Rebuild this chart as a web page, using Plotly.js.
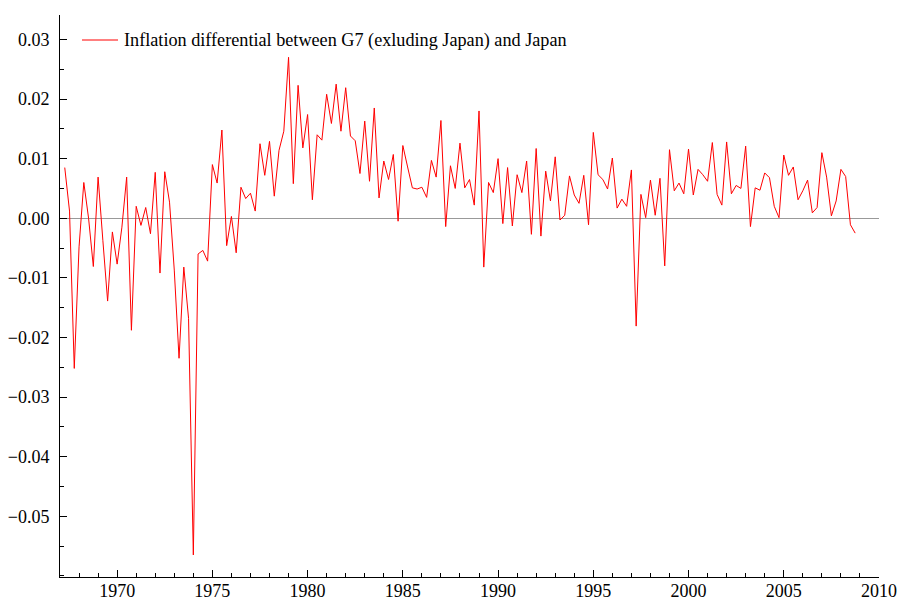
<!DOCTYPE html>
<html>
<head>
<meta charset="utf-8">
<script src="https://cdn.plot.ly/plotly-3.0.1.min.js"></script>
<style>html,body{margin:0;padding:0;background:#fff;}#chart{width:898px;height:601px;}</style>
</head>
<body>
<div id="chart"></div>
<script>
// Quarterly series, first observation 1967.25, step 0.25 year
const startYear = 1967.25;
const seriesName = "Inflation differential between G7 (exluding Japan) and Japan";
const differential = [
  0.0085, 0.0012, -0.0252, -0.0048, 0.0060, 0.0000, -0.0081, 0.0069, -0.0037, -0.0139,
  -0.0023, -0.0077, -0.0015, 0.0069, -0.0188, 0.0020, -0.0012, 0.0018, -0.0026, 0.0077,
  -0.0092, 0.0078, 0.0027, -0.0087, -0.0235, -0.0082, -0.0168, -0.0565, -0.0060, -0.0054,
  -0.0072, 0.0090, 0.0059, 0.0148, -0.0046, 0.0003, -0.0058, 0.0052, 0.0033, 0.0042,
  0.0012, 0.0125, 0.0072, 0.0129, 0.0037, 0.0114, 0.0146, 0.0270, 0.0058, 0.0223,
  0.0118, 0.0174, 0.0031, 0.0140, 0.0131, 0.0208, 0.0159, 0.0225, 0.0146, 0.0219,
  0.0138, 0.0130, 0.0075, 0.0163, 0.0062, 0.0185, 0.0034, 0.0096, 0.0065, 0.0107,
  -0.0005, 0.0122, 0.0086, 0.0051, 0.0049, 0.0052, 0.0035, 0.0097, 0.0069, 0.0164,
  -0.0014, 0.0088, 0.0050, 0.0126, 0.0051, 0.0065, 0.0022, 0.0180, -0.0082, 0.0060,
  0.0043, 0.0100, -0.0009, 0.0085, -0.0013, 0.0073, 0.0043, 0.0096, -0.0027, 0.0117,
  -0.0030, 0.0079, 0.0029, 0.0103, -0.0003, 0.0005, 0.0071, 0.0039, 0.0025, 0.0072,
  -0.0011, 0.0144, 0.0073, 0.0065, 0.0049, 0.0101, 0.0017, 0.0032, 0.0020, 0.0081,
  -0.0181, 0.0040, 0.0001, 0.0064, 0.0005, 0.0067, -0.0080, 0.0115, 0.0046, 0.0059,
  0.0041, 0.0116, 0.0039, 0.0082, 0.0073, 0.0062, 0.0127, 0.0040, 0.0022, 0.0128,
  0.0041, 0.0055, 0.0050, 0.0121, -0.0014, 0.0051, 0.0047, 0.0076, 0.0068, 0.0020,
  0.0001, 0.0106, 0.0072, 0.0086, 0.0031, 0.0046, 0.0064, 0.0009, 0.0018, 0.0110,
  0.0069, 0.0004, 0.0029, 0.0082, 0.0070, -0.0011, -0.0025
];
const dates = differential.map((_, i) => startYear + i * 0.25);
const xTickVals = [1970, 1975, 1980, 1985, 1990, 1995, 2000, 2005, 2010];
const yTickVals = [-0.05, -0.04, -0.03, -0.02, -0.01, 0.00, 0.01, 0.02, 0.03];

const fontFam = "Liberation Serif, Times New Roman, serif";
const lineColor = '#ff0000';

// legend key drawn in paper coordinates (plot area 60..879 px wide, 15..577 px tall)
const plotW = 819, plotH = 562;
const keyY = (577 - 40) / plotH;

Plotly.newPlot('chart', [{
  x: dates,
  y: differential,
  type: 'scatter',
  mode: 'lines',
  name: seriesName,
  showlegend: false,
  line: {color: lineColor, width: 1}
}], {
  width: 898, height: 601,
  margin: {l: 60, r: 19, t: 15, b: 24},
  paper_bgcolor: '#fff', plot_bgcolor: '#fff',
  font: {family: fontFam, size: 18, color: '#000'},
  showlegend: false,
  shapes: [{
    type: 'line', xref: 'paper', yref: 'paper',
    x0: (82 - 60) / plotW, x1: (118 - 60) / plotW, y0: keyY, y1: keyY,
    line: {color: lineColor, width: 1}
  }],
  annotations: [{
    xref: 'paper', yref: 'paper', x: (122 - 60) / plotW, y: keyY,
    xanchor: 'left', yanchor: 'middle', showarrow: false,
    text: seriesName, font: {family: fontFam, size: 18.2, color: '#000'}
  }],
  xaxis: {
    range: [1967, 2010], tickvals: xTickVals, ticktext: xTickVals.map(String),
    showgrid: false, zeroline: false, showline: true, linecolor: '#000', linewidth: 1,
    ticks: 'inside', ticklen: 7, tickcolor: '#000', tickwidth: 1,
    minor: {dtick: 1, tick0: 1965, ticks: 'inside', ticklen: 4, tickcolor: '#000', showgrid: false},
    ticklabelstandoff: -3,
    tickfont: {family: fontFam, size: 18}
  },
  yaxis: {
    range: [-0.0602, 0.0341], tickvals: yTickVals, tickformat: '.2f',
    showgrid: false, zeroline: true, zerolinecolor: '#999', zerolinewidth: 1,
    showline: true, linecolor: '#000', linewidth: 1,
    ticks: 'inside', ticklen: 7, tickcolor: '#000', tickwidth: 1,
    minor: {dtick: 0.005, tick0: 0, ticks: 'inside', ticklen: 4, tickcolor: '#000', showgrid: false},
    ticklabelstandoff: 6,
    tickfont: {family: fontFam, size: 18}
  }
}, {displayModeBar: false, staticPlot: true});
</script>
</body>
</html>
